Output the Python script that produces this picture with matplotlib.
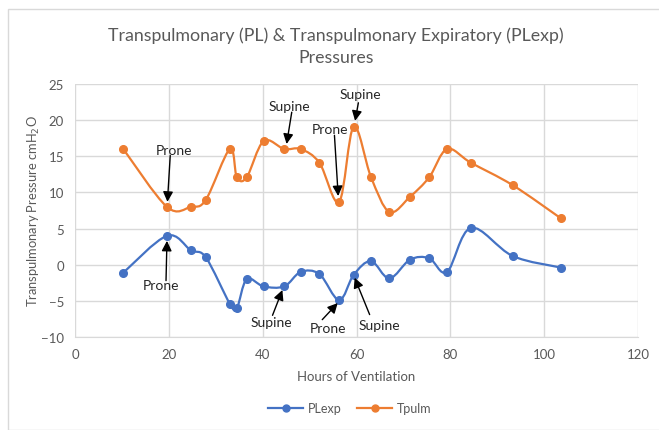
import numpy as np
import matplotlib
matplotlib.use("Agg")
import matplotlib.pyplot as plt
from matplotlib.path import Path
from matplotlib.patches import PathPatch, Rectangle

plt.rcParams['font.family'] = ['Lato', 'DejaVu Sans']

hours = [10.3, 19.6, 24.7, 27.9, 33.0, 34.5, 36.6, 40.2, 44.6, 48.1, 52.1, 56.3,
         59.4, 63.1, 67.0, 71.4, 75.5, 79.3, 84.4, 93.3, 103.6]
plexp = [-1.1, 4.0, 2.0, 1.0, -5.4, -6.0, -2.0, -3.0, -3.0, -1.0, -1.3, -4.9,
         -1.4, 0.5, -1.9, 0.7, 0.9, -1.0, 5.1, 1.2, -0.4]
tpulm = [16.0, 8.0, 8.0, 9.0, 16.0, 12.1, 12.1, 17.1, 16.0, 16.0, 14.1, 8.7,
         19.1, 12.1, 7.3, 9.4, 12.1, 16.0, 14.1, 11.0, 6.4]

# annotations: (label, text x, text y, arrow tail x, tail y, head x, head y)
ann_tpulm = [
    ("Prone", 21.2, 15.9, 20.3, 15.1, 19.7, 8.7),
    ("Supine", 45.6, 21.9, 46.2, 21.1, 45.1, 16.7),
    ("Prone", 54.4, 18.8, 55.3, 17.9, 56.1, 9.5),
    ("Supine", 60.9, 23.6, 60.4, 22.4, 59.7, 19.9),
]
ann_plexp = [
    ("Prone", 18.3, -2.85, 19.4, -2.2, 19.6, 3.3),
    ("Supine", 41.9, -7.9, 42.1, -7.0, 44.2, -3.5),
    ("Prone", 53.9, -8.7, 52.7, -7.6, 56.0, -5.3),
    ("Supine", 64.8, -8.3, 62.8, -6.9, 59.6, -1.8),
]

blue = '#4472C4'
orange = '#ED7D31'
gray = '#595959'

def smooth_path(xs, ys):
    xs = np.asarray(xs, float); ys = np.asarray(ys, float)
    n = len(xs)
    verts = [(xs[0], ys[0])]
    codes = [Path.MOVETO]
    for i in range(n - 1):
        p0 = (xs[max(i - 1, 0)], ys[max(i - 1, 0)])
        p1 = (xs[i], ys[i])
        p2 = (xs[i + 1], ys[i + 1])
        p3 = (xs[min(i + 2, n - 1)], ys[min(i + 2, n - 1)])
        c1 = (p1[0] + (p2[0] - p0[0]) / 6, p1[1] + (p2[1] - p0[1]) / 6)
        c2 = (p2[0] - (p3[0] - p1[0]) / 6, p2[1] - (p3[1] - p1[1]) / 6)
        verts += [c1, c2, p2]
        codes += [Path.CURVE4] * 3
    return Path(verts, codes)

fig = plt.figure(figsize=(6.59, 4.31), dpi=100)
fig.patches.append(Rectangle((8 / 659, 0.5 / 431), 1.0, (431 - 10.5) / 431,
                             transform=fig.transFigure, fill=False,
                             edgecolor='#D9D9D9', linewidth=1))
ax = fig.add_axes([75 / 659, 1 - 338 / 431, (638 - 75) / 659, (338 - 85) / 431])

for ys, c, lab in [(plexp, blue, 'PLexp'), (tpulm, orange, 'Tpulm')]:
    ax.add_patch(PathPatch(smooth_path(hours, ys), fill=False, edgecolor=c,
                           linewidth=1.6, zorder=3))
    ax.plot(hours, ys, linestyle='none', marker='o', markersize=5.5, color=c, zorder=4)
    ax.plot([], [], color=c, marker='o', markersize=5, linewidth=1.6, label=lab)

ax.set_xlim(0, 120)
ax.set_ylim(-10, 25)
ax.set_xticks(range(0, 121, 20))
ax.set_yticks(range(-10, 26, 5))
ax.grid(True, color='#D9D9D9', linewidth=1)
ax.set_axisbelow(True)
for s in ax.spines.values():
    s.set_visible(False)
ax.spines['bottom'].set_visible(True)
ax.spines['bottom'].set_color('#D9D9D9')
ax.tick_params(length=0, labelsize=9.5, colors=gray, pad=8)

for lab, tx, ty, ax0, ay0, hx, hy in ann_tpulm + ann_plexp:
    ax.text(tx, ty, lab, ha='center', va='center', fontsize=10, color='#262626', zorder=6)
    ax.annotate('', xy=(hx, hy), xytext=(ax0, ay0),
                arrowprops=dict(arrowstyle='-|>,head_length=0.6,head_width=0.3',
                                color='black', lw=1, shrinkA=0, shrinkB=0), zorder=6)

ax.set_xlabel('Hours of Ventilation', fontsize=9.5, color=gray, labelpad=7)
ax.set_ylabel(r'Transpulmonary Pressure cmH$_2$O', fontsize=9.3, color=gray, labelpad=-1)

fig.text(336 / 659, 1 - 47 / 431,
         'Transpulmonary (PL) & Transpulmonary Expiratory (PLexp)\nPressures',
         ha='center', va='center', fontsize=12.8, color=gray, linespacing=1.45)

fig.legend(loc='center', bbox_to_anchor=(350 / 659, 1 - 409 / 431), ncol=2,
           frameon=False, fontsize=9, labelcolor=gray, handlelength=2.8,
           columnspacing=1.2, handletextpad=0.4)

fig.savefig('out.png', dpi=100)
